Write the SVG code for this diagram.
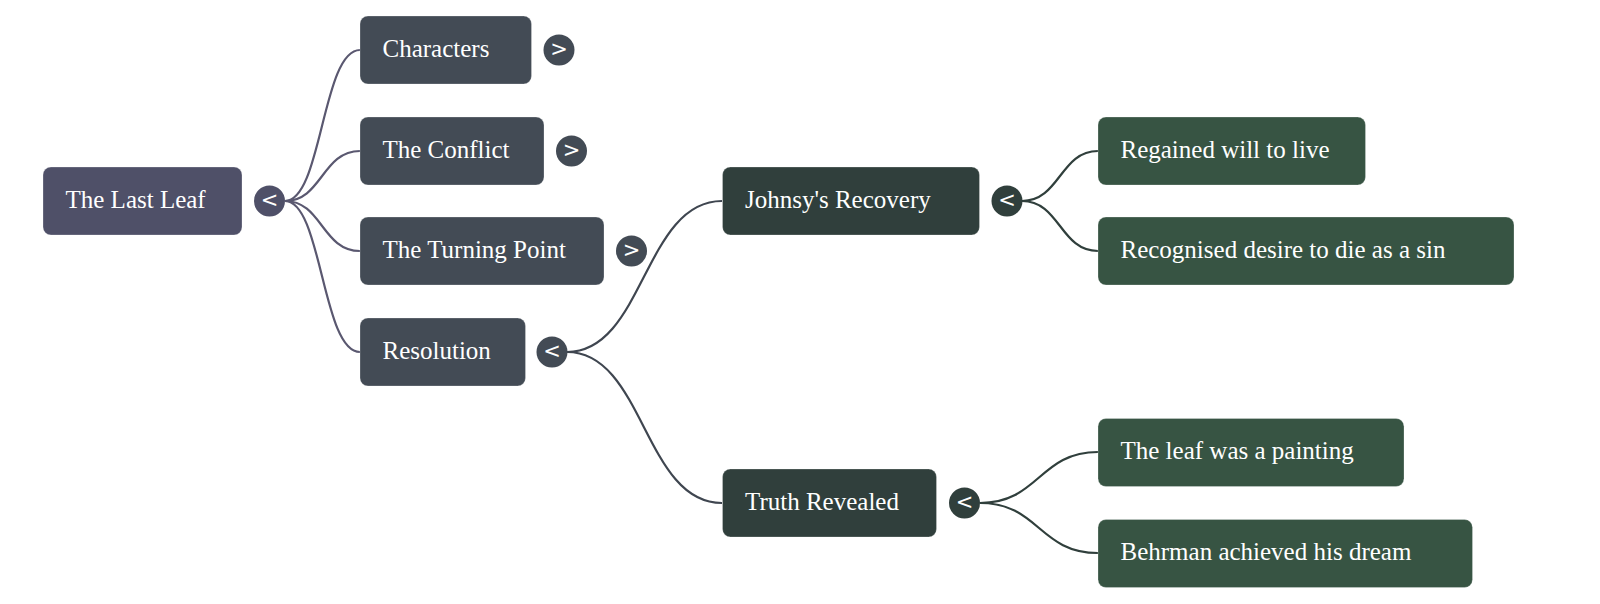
<svg xmlns="http://www.w3.org/2000/svg" width="1600" height="604" viewBox="0 0 1600 604">
<style>
.n text{font-family:"Liberation Serif","Times New Roman",serif;font-size:25px;fill:#ffffff}
.n rect{rx:8;ry:8;stroke:#ffffff;stroke-opacity:0.25;stroke-width:1}
.t circle{r:15.5}
.t text{font-family:"DejaVu Sans","Liberation Sans",sans-serif;font-size:21px;fill:#ffffff;text-anchor:middle;dominant-baseline:central}
.c path{fill:none;stroke-width:2.2}
.l0 rect{fill:#4f5068}
.l1 rect{fill:#434b55}
.l2 rect{fill:#303f3c}
.l3 rect{fill:#375443}
</style>
<rect width="1600" height="604" fill="#ffffff"/>
<g id="connectors" class="c">
<path d="M285,201 C322,201 322,50 360,50" stroke="#5a5870"/>
<path d="M285,201 C322,201 322,151 360,151" stroke="#5a5870"/>
<path d="M285,201 C322,201 322,251 360,251" stroke="#5a5870"/>
<path d="M285,201 C322,201 322,352 360,352" stroke="#5a5870"/>
<path d="M567,352 C644,352 644,201 722,201" stroke="#3f4650"/>
<path d="M567,352 C644,352 644,503 722,503" stroke="#3f4650"/>
<path d="M1022,201 C1060,201 1060,151 1098,151" stroke="#303f3c"/>
<path d="M1022,201 C1060,201 1060,251 1098,251" stroke="#303f3c"/>
<path d="M980,503 C1039,503 1039,452 1098,452" stroke="#303f3c"/>
<path d="M980,503 C1039,503 1039,553 1098,553" stroke="#303f3c"/>
</g>
<g id="node-root" class="n l0"><rect x="43" y="167" width="199" height="68"/><text x="65.5" y="207.5">The Last Leaf</text></g>
<g id="toggle-root" class="t"><circle cx="269.5" cy="201" fill="#4f5068"/><text x="269.5" y="200">&lt;</text></g>
<g id="node-characters" class="n l1"><rect x="360" y="16" width="171.5" height="68"/><text x="382.5" y="56.5">Characters</text></g>
<g id="toggle-characters" class="t"><circle cx="559" cy="50" fill="#434b55"/><text x="559" y="49">&gt;</text></g>
<g id="node-conflict" class="n l1"><rect x="360" y="117" width="184" height="68"/><text x="382.5" y="157.5">The Conflict</text></g>
<g id="toggle-conflict" class="t"><circle cx="571.5" cy="151" fill="#434b55"/><text x="571.5" y="150">&gt;</text></g>
<g id="node-turning" class="n l1"><rect x="360" y="217" width="244" height="68"/><text x="382.5" y="257.5">The Turning Point</text></g>
<g id="toggle-turning" class="t"><circle cx="631.5" cy="251" fill="#434b55"/><text x="631.5" y="250">&gt;</text></g>
<g id="node-resolution" class="n l1"><rect x="360" y="318" width="165.5" height="68"/><text x="382.5" y="358.5">Resolution</text></g>
<g id="toggle-resolution" class="t"><circle cx="552" cy="352" fill="#434b55"/><text x="552" y="351">&lt;</text></g>
<g id="node-johnsy" class="n l2"><rect x="722.5" y="167" width="257" height="68"/><text x="745" y="207.5">Johnsy's Recovery</text></g>
<g id="toggle-johnsy" class="t"><circle cx="1007" cy="201" fill="#303f3c"/><text x="1007" y="200">&lt;</text></g>
<g id="node-truth" class="n l2"><rect x="722.5" y="469" width="214" height="68"/><text x="745" y="509.5">Truth Revealed</text></g>
<g id="toggle-truth" class="t"><circle cx="964.5" cy="503" fill="#303f3c"/><text x="964.5" y="502">&lt;</text></g>
<g id="node-regained" class="n l3"><rect x="1098" y="117" width="267.5" height="68"/><text x="1120.5" y="157.5">Regained will to live</text></g>
<g id="node-recognised" class="n l3"><rect x="1098" y="217" width="416" height="68"/><text x="1120.5" y="257.5">Recognised desire to die as a sin</text></g>
<g id="node-leaf" class="n l3"><rect x="1098" y="418.5" width="306" height="68"/><text x="1120.5" y="459">The leaf was a painting</text></g>
<g id="node-behrman" class="n l3"><rect x="1098" y="519.5" width="374.5" height="68"/><text x="1120.5" y="560">Behrman achieved his dream</text></g>
</svg>
